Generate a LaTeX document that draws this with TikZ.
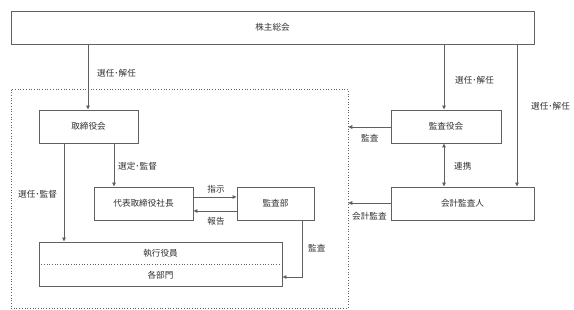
\documentclass[tikz,border=0pt]{standalone}
\usepackage{fontspec}
\setmainfont{Noto Sans CJK JP}
\usetikzlibrary{arrows.meta}
\definecolor{ln}{HTML}{606060}
\definecolor{tx}{HTML}{303030}
\tikzset{
  box/.style={draw=ln, line width=0.9pt, fill=white, inner sep=0pt, text=tx, font=\fontsize{8.6}{10}\selectfont},
  lbl/.style={inner sep=0pt, text=tx, font=\fontsize{8.6}{10}\selectfont},
  conn/.style={draw=ln, line width=0.9pt, -{Triangle[length=4pt,width=3.6pt]}},
  grpbox/.style={draw=ln, line width=0.7pt, dotted, inner sep=0pt},
}
\begin{document}
\begin{tikzpicture}[x=1pt,y=1pt]
\useasboundingbox (0,0) rectangle (574,-310);
% group
\node[grpbox, minimum width=337pt, minimum height=219pt] (grp) at (179.5,-198.5) {};
% boxes
\node[box, minimum width=523pt, minimum height=33pt] (top) at (272.5,-27.5) {株主総会};
\node[box, minimum width=99pt, minimum height=33pt] (tori) at (88.5,-126.5) {取締役会};
\node[box, minimum width=99pt, minimum height=33pt] (dai) at (143.5,-203.5) {代表取締役社長};
\node[box, minimum width=77pt, minimum height=33pt] (kbu) at (275.5,-203.5) {監査部};
\node[box, minimum width=243pt, minimum height=44pt] (shk) at (160.5,-264) {};
\draw[ln, line width=0.7pt, dotted] (shk.west) -- (shk.east);
\node[lbl] (shk1) at (160.5,-253) {執行役員};
\node[lbl] (shk2) at (160.5,-275) {各部門};
\node[box, minimum width=110pt, minimum height=33pt] (kyk) at (446,-126.5) {監査役会};
\node[box, minimum width=143pt, minimum height=33pt] (kai) at (462.5,-203.5) {会計監査人};
% helper coordinates
\coordinate (xa) at (88,0);
\coordinate (xb) at (444,0);
\coordinate (xc) at (517,0);
\coordinate (xd) at (114,0);
\coordinate (xe) at (64,0);
\coordinate (ya) at (0,-197);
\coordinate (yb) at (0,-211);
\coordinate (xf) at (302,0);
\coordinate (yc) at (0,-277);
\coordinate (yd) at (0,-127);
\coordinate (ye) at (0,-203);
% connectors
\draw[conn] (top.south -| xa) -- (tori.north -| xa);
\draw[conn] (top.south -| xb) -- (kyk.north -| xb);
\draw[conn] (top.south -| xc) -- (kai.north -| xc);
\draw[conn] (tori.south -| xd) -- (dai.north -| xd);
\draw[conn] (tori.south -| xe) -- (shk.north -| xe);
\draw[conn] (dai.east |- ya) -- (kbu.west |- ya);
\draw[conn] (kbu.west |- yb) -- (dai.east |- yb);
\draw[conn] (kbu.south -| xf) -- (xf |- yc) -- (shk.east |- yc);
\draw[conn] (kyk.west |- yd) -- (grp.east |- yd);
\draw[conn, {Triangle[length=4pt,width=3.6pt]}-{Triangle[length=4pt,width=3.6pt]}] (kyk.south -| xb) -- (kai.north -| xb);
\draw[conn] (kai.west |- ye) -- (grp.east |- ye);
% labels
\node[lbl, anchor=west] (l1) at (97,-73) {選任･解任};
\node[lbl, anchor=west] (l2) at (455,-80) {選任･解任};
\node[lbl, anchor=west] (l3) at (531,-106) {選任･解任};
\node[lbl, anchor=west] (l4) at (118,-166) {選定･監督};
\node[lbl, anchor=west] (l5) at (18,-194) {選任･監督};
\node[lbl] (l6) at (216,-189) {指示};
\node[lbl] (l7) at (216,-221) {報告};
\node[lbl, anchor=west] (l8) at (308,-248) {監査};
\node[lbl, anchor=west] (l9) at (361,-138) {監査};
\node[lbl, anchor=west] (l10) at (454,-166) {連携};
\node[lbl, anchor=west] (l11) at (352,-216) {会計監査};
\end{tikzpicture}
\end{document}
